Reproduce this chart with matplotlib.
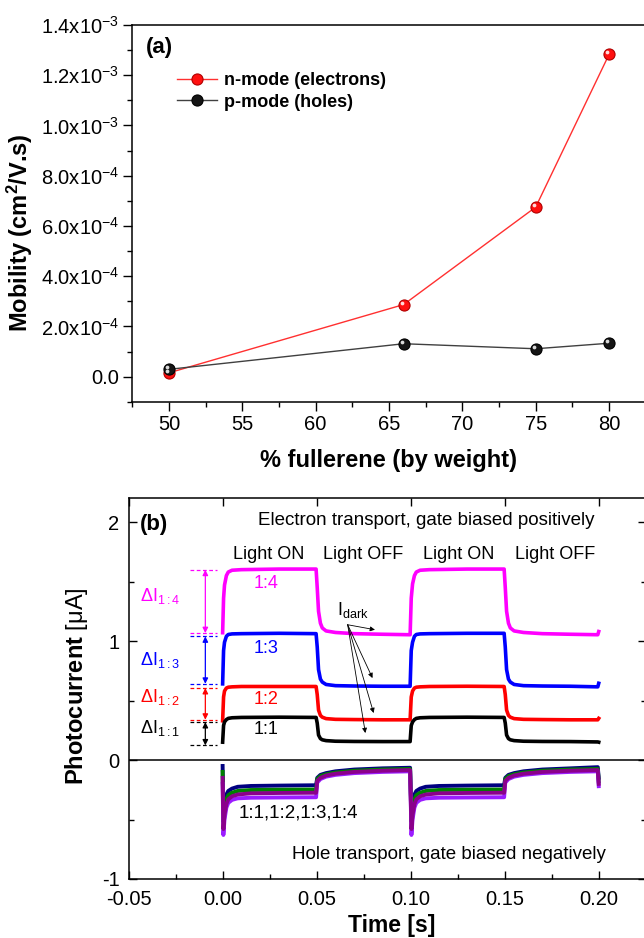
import numpy as np
import matplotlib.pyplot as plt
from matplotlib.ticker import MultipleLocator, FixedLocator, FixedFormatter
from matplotlib.transforms import offset_copy

plt.rcParams['font.family'] = ['Liberation Sans', 'DejaVu Sans']
plt.rcParams['mathtext.fontset'] = 'custom'
plt.rcParams['mathtext.rm'] = 'Liberation Sans'
plt.rcParams['mathtext.it'] = 'Liberation Sans:italic'
plt.rcParams['mathtext.bf'] = 'Liberation Sans:bold'
plt.rcParams['axes.unicode_minus'] = False

# ---- panel (a): mobility vs fullerene content ----
fullerene = [50, 66, 75, 80]
mu_n = [1.5e-5, 2.87e-4, 6.75e-4, 1.283e-3]
mu_p = [2.9e-5, 1.31e-4, 1.11e-4, 1.33e-4]
mob_ticks = [0.0, 2e-4, 4e-4, 6e-4, 8e-4, 1.0e-3, 1.2e-3, 1.4e-3]
mob_labels = ['0.0', r'2.0x10$^{-4}$', r'4.0x10$^{-4}$', r'6.0x10$^{-4}$',
              r'8.0x10$^{-4}$', r'1.0x10$^{-3}$', r'1.2x10$^{-3}$', r'1.4x10$^{-3}$']

# ---- panel (b): photocurrent transients ----
t_e = [0.0, 0.0005, 0.001, 0.002, 0.003, 0.005, 0.010, 0.030, 0.0497,
       0.0503, 0.051, 0.052, 0.053, 0.055, 0.060, 0.070, 0.085, 0.0997,
       0.1003, 0.101, 0.102, 0.103, 0.105, 0.110, 0.130, 0.1497,
       0.1503, 0.151, 0.152, 0.153, 0.155, 0.160, 0.170, 0.185, 0.1995, 0.200]
i_14 = [1.07, 1.36, 1.47, 1.55, 1.58, 1.595, 1.60, 1.605, 1.605,
        1.45, 1.25, 1.15, 1.11, 1.085, 1.072, 1.062, 1.057, 1.053,
        1.36, 1.48, 1.55, 1.58, 1.595, 1.60, 1.605, 1.605,
        1.45, 1.25, 1.15, 1.11, 1.085, 1.072, 1.062, 1.057, 1.053, 1.08]
i_13 = [0.64, 0.92, 0.99, 1.04, 1.055, 1.06, 1.062, 1.065, 1.062,
        0.95, 0.76, 0.68, 0.655, 0.635, 0.625, 0.622, 0.62, 0.62,
        0.92, 0.99, 1.04, 1.055, 1.06, 1.062, 1.065, 1.065,
        0.95, 0.76, 0.68, 0.655, 0.635, 0.625, 0.622, 0.62, 0.615, 0.645]
i_12 = [0.33, 0.53, 0.58, 0.605, 0.612, 0.615, 0.618, 0.618, 0.618,
        0.55, 0.42, 0.375, 0.36, 0.348, 0.342, 0.34, 0.338, 0.338,
        0.53, 0.58, 0.605, 0.612, 0.615, 0.618, 0.62, 0.618,
        0.55, 0.42, 0.375, 0.36, 0.348, 0.342, 0.34, 0.338, 0.338, 0.35]
i_11 = [0.15, 0.29, 0.32, 0.34, 0.35, 0.355, 0.358, 0.36, 0.358,
        0.31, 0.21, 0.18, 0.17, 0.163, 0.158, 0.156, 0.155, 0.155,
        0.29, 0.32, 0.34, 0.35, 0.355, 0.358, 0.36, 0.358,
        0.31, 0.21, 0.18, 0.17, 0.163, 0.158, 0.156, 0.155, 0.152, 0.15]

t_h = [0.0, 0.0004, 0.001, 0.002, 0.003, 0.005, 0.008, 0.015, 0.030, 0.0497,
       0.0503, 0.052, 0.055, 0.060, 0.070, 0.085, 0.0997,
       0.1004, 0.101, 0.102, 0.103, 0.105, 0.108, 0.115, 0.130, 0.1497,
       0.1503, 0.152, 0.155, 0.160, 0.170, 0.185, 0.1995, 0.200]
h_navy = [-0.05, -0.45, -0.36, -0.29, -0.26, -0.24, -0.225, -0.218, -0.215, -0.212,
          -0.15, -0.125, -0.11, -0.095, -0.08, -0.07, -0.065,
          -0.45, -0.36, -0.29, -0.26, -0.24, -0.225, -0.218, -0.215, -0.212,
          -0.15, -0.125, -0.11, -0.095, -0.08, -0.07, -0.06, -0.15]
h_green = [-0.10, -0.52, -0.41, -0.33, -0.295, -0.275, -0.26, -0.252, -0.25, -0.248,
           -0.16, -0.135, -0.12, -0.105, -0.09, -0.08, -0.075,
           -0.52, -0.41, -0.33, -0.295, -0.275, -0.26, -0.252, -0.25, -0.248,
           -0.16, -0.135, -0.12, -0.105, -0.09, -0.08, -0.075, -0.18]
h_violet = [-0.20, -0.63, -0.50, -0.40, -0.36, -0.335, -0.322, -0.317, -0.315, -0.313,
            -0.19, -0.16, -0.14, -0.125, -0.11, -0.10, -0.095,
            -0.63, -0.50, -0.40, -0.36, -0.335, -0.322, -0.317, -0.315, -0.313,
            -0.19, -0.16, -0.14, -0.125, -0.11, -0.10, -0.095, -0.22]
h_purple = [-0.15, -0.58, -0.46, -0.37, -0.33, -0.305, -0.29, -0.28, -0.277, -0.275,
            -0.175, -0.15, -0.13, -0.115, -0.10, -0.09, -0.085,
            -0.58, -0.46, -0.37, -0.33, -0.305, -0.29, -0.28, -0.277, -0.275,
            -0.175, -0.15, -0.13, -0.115, -0.10, -0.09, -0.085, -0.20]

ratios = ['1:4', '1:3', '1:2', '1:1']
e_colors = ['#ff00ff', '#0000ff', '#ff0000', '#000000']
dI_top = [1.599, 1.039, 0.605, 0.319]
dI_bot = [1.067, 0.641, 0.339, 0.123]
ratio_y = [1.487, 0.935, 0.507, 0.255]
dI_label_y = [1.333, 0.80, 0.484, 0.227]
dark_targets = [(0.081, 1.095), (0.0797, 0.689), (0.0803, 0.395), (0.0759, 0.227)]

fig = plt.figure(figsize=(6.44, 9.38), dpi=100)

# ================= (a) =================
ax1 = fig.add_axes([0.2053, 0.5717, 0.7974, 0.4016])
ax1.plot(fullerene, mu_n, '-', color='#ff3030', lw=1.0, marker='o', ms=8,
         mfc='#ff1010', mec='#b00000', mew=0.8, label='n-mode (electrons)')
ax1.plot(fullerene, mu_p, '-', color='#404040', lw=1.0, marker='o', ms=8,
         mfc='#151515', mec='black', mew=0.8, label='p-mode (holes)')
hl = offset_copy(ax1.transData, fig=fig, x=-1.4, y=1.4, units='points')
for vals in (mu_n, mu_p):
    ax1.plot(fullerene, vals, 'o', ms=2.7, mfc='white', mec='none',
             alpha=0.85, transform=hl)
ax1.set_xlim(47.5, 82.5)
ax1.set_ylim(-1e-4, 1.4e-3)
ax1.xaxis.set_major_locator(MultipleLocator(5))
ax1.xaxis.set_minor_locator(MultipleLocator(2.5))
ax1.yaxis.set_major_locator(FixedLocator(mob_ticks))
ax1.yaxis.set_major_formatter(FixedFormatter(mob_labels))
ax1.yaxis.set_minor_locator(MultipleLocator(1e-4))
ax1.tick_params(which='both', direction='out', top=False, right=False,
                labelsize=14.5, width=1.0)
ax1.tick_params(which='major', length=6.5, pad=3)
ax1.tick_params(which='minor', length=3.5)
for s in ax1.spines.values():
    s.set_linewidth(1.1)
ax1.set_xlabel('% fullerene (by weight)', fontsize=17, fontweight='bold')
ax1.set_ylabel(r'Mobility (cm$^{\mathbf{2}}$/V.s)', fontsize=17, fontweight='bold')
ax1.xaxis.set_label_coords(0.5, -0.125)
ax1.yaxis.set_label_coords(-0.19, 0.45)
ax1.text(0.027, 0.94, '(a)', transform=ax1.transAxes, fontsize=16,
         fontweight='bold', va='center', ha='left')
leg = ax1.legend(loc='upper left', bbox_to_anchor=(0.087, 0.875), frameon=False,
                 fontsize=13, handlelength=2.2, handletextpad=0.4,
                 labelspacing=0.25, borderpad=0, borderaxespad=0)
for txt in leg.get_texts():
    txt.set_fontweight('bold')

# ================= (b) =================
ax2 = fig.add_axes([0.1997, 0.0629, 0.803, 0.4059])
for vals, c in zip([i_14, i_13, i_12, i_11], e_colors):
    ax2.plot(t_e, vals, color=c, lw=2.6, solid_joinstyle='round')
for vals, c in zip([h_navy, h_green, h_violet, h_purple],
                   ['#000080', '#008000', '#9b1cff', '#8b008b']):
    ax2.plot(t_h, vals, color=c, lw=2.8, solid_joinstyle='round')
ax2.axhline(0, color='black', lw=1.1)

for c, top, bot, ry, ly, r in zip(e_colors, dI_top, dI_bot, ratio_y, dI_label_y, ratios):
    ax2.plot([-0.0175, -0.0032], [top, top], '--', color=c, lw=0.9, dashes=(3, 2))
    ax2.plot([-0.0175, -0.0032], [bot, bot], '--', color=c, lw=0.9, dashes=(3, 2))
    ax2.annotate('', xy=(-0.0092, bot), xytext=(-0.0092, top),
                 arrowprops=dict(arrowstyle='<|-|>', color=c, lw=0.9,
                                 mutation_scale=8, shrinkA=0, shrinkB=0))
    ax2.text(0.0233, ry, r, color=c, fontsize=13, ha='center', va='center')
    ax2.text(-0.0334, ly, r'$\Delta$I$_{' + r + '}$', color=c, fontsize=13,
             ha='center', va='baseline')

ax2.text(0.061, 1.221, r'I$_{\rm dark}$', fontsize=13, ha='left', va='baseline')
for tx, ty in dark_targets:
    ax2.annotate('', xy=(tx, ty), xytext=(0.0665, 1.137),
                 arrowprops=dict(arrowstyle='-|>', color='black', lw=0.6,
                                 mutation_scale=7, shrinkA=0, shrinkB=0))

for tx, lab in zip([0.0244, 0.0748, 0.1257, 0.1767],
                   ['Light ON', 'Light OFF', 'Light ON', 'Light OFF']):
    ax2.text(tx, 1.725, lab, fontsize=13, ha='center', va='center')
ax2.text(0.1975, 2.015, 'Electron transport, gate biased positively',
         fontsize=13.5, ha='right', va='center')
ax2.text(0.0368, -0.796, 'Hole transport, gate biased negatively',
         fontsize=13.5, ha='left', va='center')
ax2.text(0.0087, -0.445, '1:1,1:2,1:3,1:4', fontsize=13.5, ha='left', va='center')
ax2.text(0.022, 0.93, '(b)', transform=ax2.transAxes, fontsize=16,
         fontweight='bold', va='center', ha='left')

ax2.set_xlim(-0.05, 0.225)
ax2.set_ylim(-1, 2.2)
ax2.xaxis.set_major_locator(MultipleLocator(0.05))
ax2.xaxis.set_minor_locator(MultipleLocator(0.025))
ax2.yaxis.set_major_locator(MultipleLocator(1))
ax2.yaxis.set_minor_locator(MultipleLocator(0.5))
ax2.xaxis.set_major_formatter(plt.FuncFormatter(lambda v, p: f'{v:.2f}'))
ax2.yaxis.set_major_formatter(plt.FuncFormatter(lambda v, p: f'{v:.0f}'))
ax2.tick_params(which='both', direction='in', top=True, right=True,
                labelsize=14.5, width=1.0)
ax2.tick_params(which='minor', top=False)
ax2.tick_params(which='major', length=6)
ax2.tick_params(axis='x', which='major', pad=8)
ax2.tick_params(axis='y', which='major', pad=6.5)
ax2.tick_params(which='minor', length=3.5)
for s in ax2.spines.values():
    s.set_linewidth(1.1)
ax2.set_xlabel('Time [s]', fontsize=16.5, fontweight='bold')
ax2.set_ylabel(r'$\mathbf{Photocurrent}$ [μA]', fontsize=17)
ax2.xaxis.set_label_coords(0.509, -0.093)
ax2.yaxis.set_label_coords(-0.075, 0.507)

fig.savefig('out.png', dpi=100)
